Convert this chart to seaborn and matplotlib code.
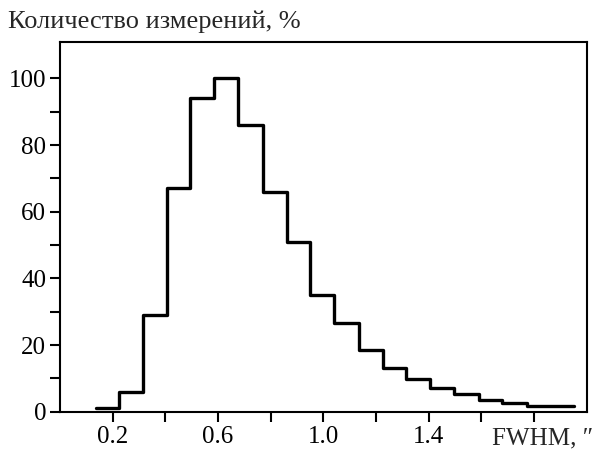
import matplotlib
matplotlib.use("Agg")
import matplotlib.pyplot as plt
import numpy as np
import pandas as pd
import seaborn as sns

# bin edges (arcsec) and relative counts (%)
bin_edges = [0.135, 0.225, 0.315, 0.405, 0.495, 0.585, 0.675, 0.77, 0.86, 0.95, 1.04,
             1.135, 1.225, 1.315, 1.405, 1.495, 1.59, 1.68, 1.775, 1.865, 1.95]
counts = [1, 6, 29, 67, 94, 100, 86, 66, 51, 35, 26.5, 18.5, 13, 9.7, 7, 5.3, 3.6, 2.7, 1.8, 1.8]
x_ticks = [0.2, 0.4, 0.6, 0.8, 1.0, 1.2, 1.4, 1.6, 1.8]
x_ticklabels = ["0.2", "", "0.6", "", "1.0", "", "1.4", "", ""]
y_ticks = [0, 10, 20, 30, 40, 50, 60, 70, 80, 90, 100]
y_ticklabels = ["0", "", "20", "", "40", "", "60", "", "80", "", "100"]

sns.set_style("ticks")
plt.rcParams["font.family"] = ["Liberation Serif", "DejaVu Serif"]

centers = [(a + b) / 2 for a, b in zip(bin_edges[:-1], bin_edges[1:])]
df = pd.DataFrame({"fwhm": centers, "pct": counts})

fig = plt.figure(figsize=(5.99, 4.51), dpi=100)
ax = fig.add_axes([0.1002, 0.0871, 0.8793, 0.8204])

sns.histplot(data=df, x="fwhm", weights="pct", bins=bin_edges, element="step",
             fill=False, color="black", linewidth=2.4, ax=ax)

ax.set_xlim(0, 2.0)
ax.set_ylim(0, 111)
ax.set_xticks(x_ticks)
ax.set_xticklabels(x_ticklabels)
ax.set_yticks(y_ticks)
ax.set_yticklabels(y_ticklabels)
ax.set_xlabel("")
ax.set_ylabel("")
for s in ax.spines.values():
    s.set_visible(True)
    s.set_linewidth(1.5)
    s.set_color("black")
ax.tick_params(direction="out", length=7, width=1.5, pad=3, labelsize=18, colors="black")

ax.annotate("FWHM, \u2033", xy=(1.64, 0), xycoords=("data", "axes fraction"),
            xytext=(0, -11.5), textcoords="offset points", ha="left", va="top",
            fontsize=18, annotation_clip=False)
fig.text(8 / 599, 1 - 28 / 451, "Количество измерений, %", ha="left", va="baseline", fontsize=19)

fig.savefig("out.png", dpi=100)
